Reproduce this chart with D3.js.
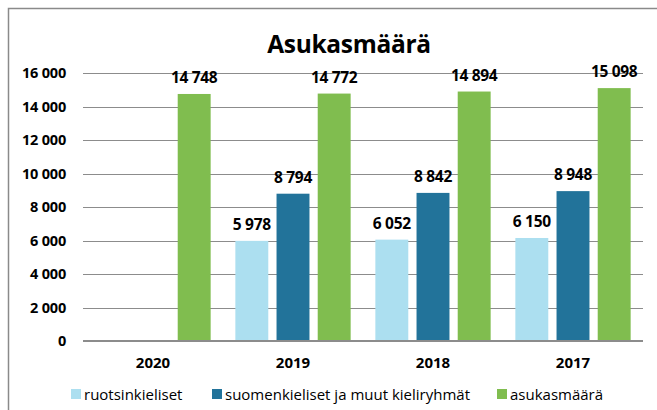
<!DOCTYPE html>
<html><head><meta charset="utf-8">
<script src="https://cdn.jsdelivr.net/npm/d3@7"></script>
<style>body{margin:0;background:#fff}svg{display:block}text{font-family:"Open Sans",sans-serif}</style>
</head><body><svg id="c" width="657" height="410"></svg>
<script>
const categories = ["2020","2019","2018","2017"];
const seriesNames = ["ruotsinkieliset","suomenkieliset ja muut kieliryhmät","asukasmäärä"];
const ruotsinkieliset = [null, 5978, 6052, 6150];
const suomenkieliset = [null, 8794, 8842, 8948];
const asukasmaara = [14748, 14772, 14894, 15098];
const yTicks = [0,2000,4000,6000,8000,10000,12000,14000,16000];
const colors = ["#acdff0","#22739a","#80bd4f"];
const seriesValues = [ruotsinkieliset, suomenkieliset, asukasmaara];

const svg = d3.select("#c");
const fmt = v => d3.format(",")(v).replace(/,/g," ");
const x = d3.scaleBand().domain(categories).range([83,643]).paddingInner(0).paddingOuter(0);
const inner = d3.scaleBand().domain(d3.range(3)).range([0, x.bandwidth()]).paddingInner(0.2).paddingOuter(0.3);
const y = d3.scaleLinear().domain([0,16000]).range([341,73]);

// border
svg.append("path").attr("d","M8.5,420 V8.5 H670").attr("fill","none").attr("stroke","#8a8a8a").attr("stroke-width",1.5);

svg.append("text").attr("x",349).attr("y",53).attr("text-anchor","middle")
  .attr("font-size",24.5).attr("font-weight","bold").attr("letter-spacing",-0.3).text("Asukasmäärä");

// gridlines
svg.append("g").selectAll("line").data(yTicks.filter(d=>d>0)).join("line")
  .attr("x1",83).attr("x2",643).attr("y1",d=>Math.round(y(d))+0.5).attr("y2",d=>Math.round(y(d))+0.5)
  .attr("stroke","#8c8c8c").attr("stroke-width",1);

const yAxis = d3.axisLeft(y).tickValues(yTicks).tickFormat(fmt).tickSize(0).tickPadding(0);
const ga = svg.append("g").attr("transform","translate(66,0)").call(yAxis);
ga.select(".domain").remove();
ga.selectAll("text").attr("font-size",14.5).attr("font-weight","bold").attr("fill","#000").attr("font-family","'Open Sans',sans-serif").attr("letter-spacing",-0.2);

// bars
seriesValues.forEach((vals,si)=>{
  const g = svg.append("g");
  const data = categories.map((c,i)=>({c,v:vals[i]})).filter(d=>d.v!=null);
  g.selectAll("rect").data(data).join("rect")
    .attr("x",d=>x(d.c)+inner(si)).attr("width",inner.bandwidth())
    .attr("y",d=>y(d.v)).attr("height",d=>y(0)-y(d.v)).attr("fill",colors[si]);
  g.selectAll("text").data(data).join("text")
    .attr("x",d=>x(d.c)+inner(si)+inner.bandwidth()/2).attr("y",d=>y(d.v)-11)
    .attr("text-anchor","middle").attr("font-size",15.5).attr("font-weight","bold").attr("letter-spacing",-0.3).text(d=>fmt(d.v));
});

// x axis
const xAxis = d3.axisBottom(x).tickSize(0).tickPadding(0);
const gx = svg.append("g").attr("transform","translate(0,341)").call(xAxis);
gx.select(".domain").attr("stroke","#8c8c8c").attr("stroke-width",2).attr("d","M83,0H643");
gx.selectAll("text").attr("dy",0).attr("y",27).attr("font-size",15).attr("font-weight","bold").attr("fill","#000").attr("font-family","'Open Sans',sans-serif");

// legend
const legX = [71,212,497];
const lg = svg.append("g").selectAll("g").data(seriesNames).join("g").attr("transform",(d,i)=>`translate(${legX[i]},389)`);
lg.append("rect").attr("width",10).attr("height",10).attr("y",0).attr("fill",(d,i)=>colors[i]);
lg.append("text").attr("x",13).attr("y",10.5).attr("font-size",15).text(d=>d);
</script></body></html>
